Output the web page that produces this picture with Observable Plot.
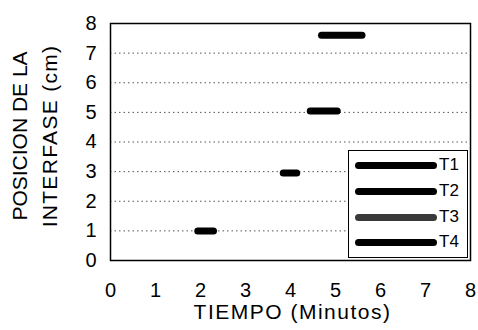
<!DOCTYPE html>
<html>
<head>
<meta charset="utf-8">
<script src="https://cdn.jsdelivr.net/npm/d3@7"></script>
<script src="https://cdn.jsdelivr.net/npm/@observablehq/plot@0.6"></script>
<style>
  body { margin: 0; background: #fff; }
  #wrap { position: relative; width: 478px; height: 330px; font-family: "Liberation Sans", Arial, sans-serif; }
  #legend { position: absolute; left: 348px; top: 150px; width: 120px; height: 108px; border: 1px solid #000; background: #fff; box-sizing: border-box; }
  .row { position: absolute; left: 6px; height: 20px; display: flex; align-items: center; }
  .sw { width: 82px; height: 7px; background: #000; border-radius: 4px; }
  .lab { margin-left: 2px; font-size: 17px; color: #000; }
</style>
</head>
<body>
<div id="wrap"></div>
<script>
const series = ["T1", "T2", "T3", "T4"];
const xStart = [1.95, 3.85, 4.45, 4.7];
const xEnd = [2.3, 4.15, 5.05, 5.6];
const yVal = [1, 2.95, 5.05, 7.6];
const xTicks = [0, 1, 2, 3, 4, 5, 6, 7, 8];
const yTicks = [0, 1, 2, 3, 4, 5, 6, 7, 8];
const gridY = [1, 2, 3, 4, 5, 6, 7];
const xLabel = "TIEMPO (Minutos)";
const yLabel = "POSICION DE LA\nINTERFASE (cm)";

const data = series.map((s, i) => ({series: s, x1: xStart[i], x2: xEnd[i], y: yVal[i]}));

const chart = Plot.plot({
  width: 478,
  height: 330,
  marginLeft: 110,
  marginRight: 8,
  marginTop: 23,
  marginBottom: 70,
  style: {fontFamily: "Liberation Sans, Arial, sans-serif", fontSize: "20px", color: "#000", background: "#fff"},
  x: {domain: [0, 8], label: null},
  y: {domain: [0, 8], label: null},
  marks: [
    Plot.ruleY(gridY, {stroke: "#555", strokeDasharray: "1.5,3", strokeWidth: 1}),
    Plot.frame({stroke: "#000", strokeWidth: 1.5}),
    Plot.ruleY(data, {y: "y", x1: "x1", x2: "x2", stroke: "#000", strokeWidth: 7, strokeLinecap: "round"}),
    Plot.axisX({ticks: xTicks, tickSize: 0, tickPadding: 22, fontSize: 20, label: null}),
    Plot.axisY({ticks: yTicks, tickSize: 0, tickPadding: 14, fontSize: 20, label: null}),
    Plot.text([xLabel], {frameAnchor: "bottom", dy: 58, dx: 2, fontSize: 21, text: d => d}),
    Plot.text([yLabel], {frameAnchor: "left", textAnchor: "middle", lineAnchor: "middle", dx: -78, dy: -6, rotate: -90, fontSize: 21, lineHeight: 1.45, text: d => d})
  ]
});

// letter spacing to match the wide lettering of the original
d3.select(chart).selectAll("text").each(function() {
  const t = this.textContent;
  if (t === xLabel) this.setAttribute("letter-spacing", "1.5");
});
d3.select(chart).selectAll("tspan").each(function() {
  if (this.textContent === "INTERFASE (cm)") this.setAttribute("letter-spacing", "1.3");
});

const wrap = document.getElementById("wrap");
wrap.appendChild(chart);

const legend = document.createElement("div");
legend.id = "legend";
const rowTops = [4, 30, 56, 81];
series.forEach((s, i) => {
  const row = document.createElement("div");
  row.className = "row";
  row.style.top = rowTops[i] + "px";
  const sw = document.createElement("div");
  sw.className = "sw";
  if (i === 2) sw.style.background = "#3a3a3a";
  const lab = document.createElement("span");
  lab.className = "lab";
  lab.textContent = s;
  row.appendChild(sw);
  row.appendChild(lab);
  legend.appendChild(row);
});
wrap.appendChild(legend);
</script>
</body>
</html>
